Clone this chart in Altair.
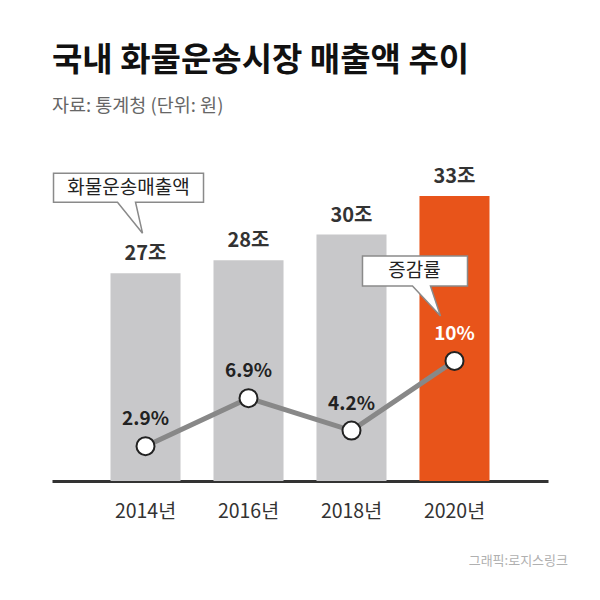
import altair as alt
import pandas as pd

# ---- data ----
years = ["2014년", "2016년", "2018년", "2020년"]
sales = [27, 28, 30, 33]                     # 화물운송매출액 (조 원)
sales_labels = ["27조", "28조", "30조", "33조"]
growth = [2.9, 6.9, 4.2, 10]                 # 증감률 (%)
growth_labels = ["2.9%", "6.9%", "4.2%", "10%"]
highlight = [False, False, False, True]

title_text = "국내 화물운송시장 매출액 추이"
subtitle_text = "자료: 통계청 (단위: 원)"
source_text = "그래픽:로지스링크"
callout_sales = "화물운송매출액"
callout_growth = "증감률"

df = pd.DataFrame({
    "year": years,
    "sales": sales,
    "sales_label": sales_labels,
    "growth": growth,
    "growth_label": growth_labels,
    "hl": highlight,
})

FONT = "Noto Sans CJK KR"
SALES_MIN = 10.87

x = alt.X(
    "year:N", sort=years,
    scale=alt.Scale(paddingInner=0.32, paddingOuter=0.568),
    axis=alt.Axis(title=None, labelAngle=0, ticks=False, domainWidth=3,
                  domainColor="#333333", labelFontSize=19.5, labelColor="#333333",
                  labelPadding=21, labelFont=FONT),
)
y_sales = alt.Y("sales:Q", scale=alt.Scale(domain=[SALES_MIN, 37.34], nice=False, zero=False), axis=None)
y_growth = alt.Y("growth:Q", scale=alt.Scale(domain=[0, 28.4], nice=False, zero=False), axis=None)

base = alt.Chart(df)

bars = base.mark_bar().encode(
    x=x, y=y_sales, y2=alt.datum(SALES_MIN),
    color=alt.Color("hl:N", scale=alt.Scale(domain=[False, True], range=["#C8C8CA", "#E8541A"]), legend=None),
)

bar_labels = base.mark_text(
    dy=-13, baseline="alphabetic", fontSize=20, fontWeight="bold", color="#333333", font=FONT
).encode(x=x, y=y_sales, text="sales_label:N")

# callout bubble for sales (anchored to 2014 bar)
c1 = alt.Chart(df[df["year"] == "2014년"])
bubble1_path = "M -92 -100 L 58 -100 L 58 -71 L -10 -71 L -3 -40 L -28 -71 L -92 -71 Z"
bubble1 = c1.mark_point(
    shape=bubble1_path, size=4, filled=True, fill="white", stroke="#8a8a8a", strokeWidth=1.5, opacity=1
).encode(x=x, y=y_sales)
bubble1_text = c1.mark_text(
    dx=-17, dy=-85, baseline="middle", fontSize=19, color="#222222", font=FONT
).encode(x=x, y=y_sales, text=alt.value(callout_sales))

line = base.mark_line(color="#888888", strokeWidth=5).encode(x=x, y=y_growth)
points = base.mark_circle(size=324, color="white", stroke="#222222", strokeWidth=2, opacity=1).encode(x=x, y=y_growth)
growth_text = base.mark_text(
    dy=-21, baseline="alphabetic", fontSize=19, fontWeight="bold", font=FONT
).encode(
    x=x, y=y_growth, text="growth_label:N",
    color=alt.condition(alt.datum.hl, alt.value("white"), alt.value("#222222")),
)

# callout bubble for growth (anchored to 2020 point)
c2 = alt.Chart(df[df["year"] == "2020년"])
bubble2_path = "M -92 -105 L 13 -105 L 13 -75 L -24 -75 L -14 -45 L -42 -75 L -92 -75 Z"
bubble2 = c2.mark_point(
    shape=bubble2_path, size=4, filled=True, fill="white", stroke="#8a8a8a", strokeWidth=1.5, opacity=1
).encode(x=x, y=y_growth)
bubble2_text = c2.mark_text(
    dx=-40, dy=-90, baseline="middle", fontSize=19, color="#222222", font=FONT
).encode(x=x, y=y_growth, text=alt.value(callout_growth))

source = alt.Chart(pd.DataFrame({"t": [source_text]})).mark_text(
    align="right", baseline="middle", fontSize=13, color="#b0b0b0", font=FONT
).encode(x=alt.value(516), y=alt.value(421), text="t:N")

chart = alt.layer(
    bars, bar_labels, bubble1, bubble1_text,
    line, points, growth_text, bubble2, bubble2_text, source,
).resolve_scale(y="independent").properties(
    width=496, height=341,
    autosize=alt.AutoSizeParams(type="none"),
    padding={"left": 44, "top": 132, "right": 44, "bottom": 111},
    title=alt.Title(
        title_text, subtitle=subtitle_text, anchor="start", frame="group",
        font=FONT, fontSize=33, fontWeight="bold", color="#111111",
        subtitleFont=FONT, subtitleFontSize=18.5, subtitleColor="#666666",
        subtitlePadding=19, offset=25,
    ),
).configure_view(stroke="transparent")

chart.save("out.html", embed_options={"renderer": "svg", "actions": False})
